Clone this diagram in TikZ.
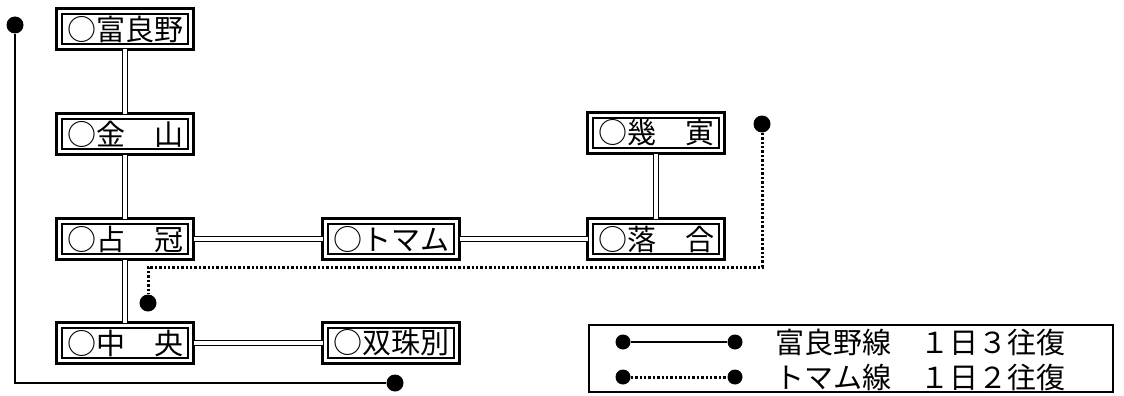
\documentclass[tikz,border=0pt]{standalone}
\usepackage{fontspec}
\setmainfont{Noto Sans CJK JP}
\usetikzlibrary{positioning}

\tikzset{
  station/.style={draw, line width=1.6pt, minimum width=126pt, minimum height=30pt,
    inner sep=0pt, outer sep=5.5pt, font=\fontsize{29}{29}\selectfont},
  link/.style={double, double distance=3.2pt, line width=1.6pt},
  dot/.style={circle, fill, inner sep=0pt, minimum size=17pt},
  furano/.style={line width=2.8pt},
  tomamu/.style={line width=3pt, dash pattern=on 2.4pt off 2pt}
}

\begin{document}
\begin{tikzpicture}[x=1pt,y=-1pt]
\useasboundingbox (0,0) rectangle (1124,396);

\node[station] (fuk) at (125,29) {○富良野};
\node[station] (kan) [below of=fuk,node distance=105pt] {○金　山};
\node[station] (shi) [below of=kan,node distance=105pt] {○占　冠};
\node[station] (chu) [below of=shi,node distance=104pt] {○中　央};
\node[station] (tom) [right of=shi,node distance=266pt] {○トマム};
\node[station] (sou) [below of=tom,node distance=104pt] {○双珠別};
\node[station] (och) [right of=tom,node distance=265pt] {○落　合};
\node[station] (iku) [above of=och,node distance=106pt] {○幾　寅};

% outer frames
\foreach \n in {fuk,kan,shi,chu,tom,sou,och,iku}
  \draw[line width=3.2pt] (\n.north west) rectangle (\n.south east);

\draw[link] (fuk) -- (kan);
\draw[link] (kan) -- (shi);
\draw[link] (shi) -- (chu);
\draw[link] (shi) -- (tom);
\draw[link] (tom) -- (och);
\draw[link] (och) -- (iku);
\draw[link] (chu) -- (sou);

% bus routes
\node[dot] (fa) at (15,25) {};
\node[dot] (fb) at (395,383) {};
\draw[furano] (fa) |- (fb);

\node[dot] (ta) at (762,124) {};
\node[dot] (tb) at (148,303) {};
\coordinate (tc) at (148,267);
\draw[tomamu] (ta) |- (tc) -- (tb);

% legend
\node[draw, line width=2.2pt, minimum width=524pt, minimum height=67pt] (legend) at (851,358.5) {};
\node[dot, minimum size=15pt] (la) at (623,342) {};
\node[dot, minimum size=15pt] (lb) [right of=la,node distance=112pt] {};
\node[dot, minimum size=15pt] (lc) at (623,377) {};
\node[dot, minimum size=15pt] (ld) [right of=lc,node distance=112pt] {};
\draw[furano] (la) -- (lb);
\draw[tomamu] (lc) -- (ld);
\node[anchor=west, inner sep=0pt, font=\fontsize{29}{29}\selectfont] (lt1) at (775,342) {富良野線　１日３往復};
\node[anchor=west, inner sep=0pt, font=\fontsize{29}{29}\selectfont] (lt2) at (775,377) {トマム線　１日２往復};
\end{tikzpicture}
\end{document}
